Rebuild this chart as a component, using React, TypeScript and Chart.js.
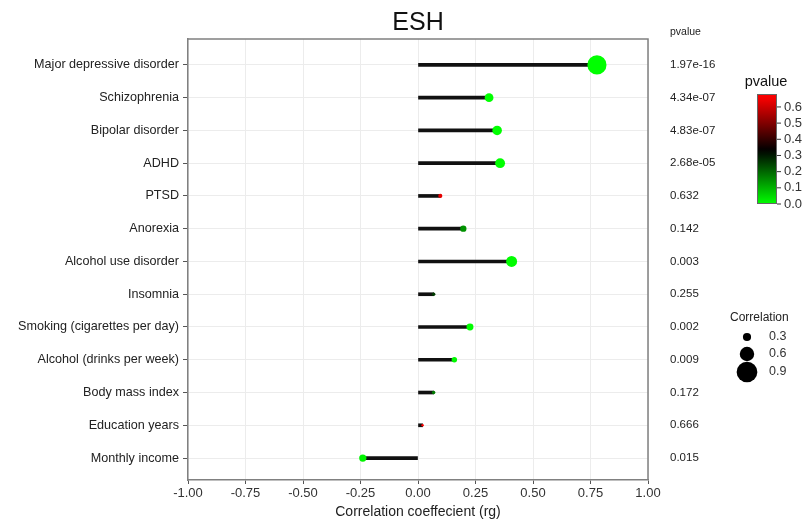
import React, { useEffect, useRef } from "react";
import { Chart, registerables } from "chart.js";

Chart.register(...registerables);

const categories = [
  "Major depressive disorder",
  "Schizophrenia",
  "Bipolar disorder",
  "ADHD",
  "PTSD",
  "Anorexia",
  "Alcohol use disorder",
  "Insomnia",
  "Smoking (cigarettes per day)",
  "Alcohol (drinks per week)",
  "Body mass index",
  "Education years",
  "Monthly income",
];
const rg = [0.778, 0.309, 0.344, 0.357, 0.097, 0.197, 0.407, 0.068, 0.226, 0.158, 0.068, 0.02, -0.24];
const pvalueLabels = [
  "1.97e-16", "4.34e-07", "4.83e-07", "2.68e-05", "0.632", "0.142", "0.003",
  "0.255", "0.002", "0.009", "0.172", "0.666", "0.015",
];
const pvalues = pvalueLabels.map((s) => parseFloat(s));
const xTicks = [-1, -0.75, -0.5, -0.25, 0, 0.25, 0.5, 0.75, 1];
const colorTicks = [0, 0.1, 0.2, 0.3, 0.4, 0.5, 0.6];
const sizeBreaks = [0.3, 0.6, 0.9];
const P_MAX = 0.666;

const FONT = "'Liberation Sans', Arial, sans-serif";

function pColor(p: number): string {
  const t = Math.max(0, Math.min(1, p / P_MAX));
  if (t < 0.5) {
    const g = Math.round(255 * (1 - 2 * t));
    return `rgb(0,${g},0)`;
  }
  const r = Math.round(255 * (2 * t - 1));
  return `rgb(${r},0,0)`;
}

function radiusOf(v: number): number {
  return 1 + 11 * Math.abs(v);
}

const extras = {
  id: "extras",
  afterDraw(chart: any) {
    const ctx = chart.ctx as CanvasRenderingContext2D;
    const ca = chart.chartArea;
    const ys = chart.scales.y;
    ctx.save();
    ctx.strokeStyle = "#808080";
    ctx.lineWidth = 1.5;
    ctx.beginPath();
    ctx.moveTo(ca.left, ca.top);
    ctx.lineTo(ca.right, ca.top);
    ctx.lineTo(ca.right, ca.bottom);
    ctx.stroke();

    ctx.fillStyle = "#111";
    ctx.textAlign = "center";
    ctx.textBaseline = "middle";
    ctx.font = `25px ${FONT}`;
    ctx.fillText("ESH", (ca.left + ca.right) / 2, 23);

    ctx.font = `14px ${FONT}`;
    ctx.fillStyle = "#222";
    ctx.fillText("Correlation coeffecient (rg)", (ca.left + ca.right) / 2, 512);

    ctx.textAlign = "left";
    ctx.font = `10.5px ${FONT}`;
    ctx.fillStyle = "#222";
    ctx.fillText("pvalue", 670, 32);
    ctx.font = `11.5px ${FONT}`;
    pvalueLabels.forEach((s, i) => {
      ctx.fillText(s, 670, ys.getPixelForValue(i));
    });

    const bx = 757, bw = 20, btop = 94, bbot = 204;
    const grad = ctx.createLinearGradient(0, bbot, 0, btop);
    const valAtTop = P_MAX + 0.014;
    const steps = 20;
    for (let k = 0; k <= steps; k++) {
      const p = (k / steps) * valAtTop;
      grad.addColorStop(k / steps, pColor(p));
    }
    ctx.fillStyle = grad;
    ctx.fillRect(bx, btop, bw, bbot - btop);
    ctx.strokeStyle = "#666";
    ctx.lineWidth = 1;
    ctx.strokeRect(bx + 0.5, btop + 0.5, bw - 1, bbot - btop - 1);
    ctx.font = `14.5px ${FONT}`;
    ctx.fillStyle = "#111";
    ctx.textAlign = "center";
    ctx.fillText("pvalue", 766, 82);
    ctx.font = `13px ${FONT}`;
    ctx.textAlign = "left";
    ctx.strokeStyle = "#333";
    colorTicks.forEach((t) => {
      const y = bbot - (t / valAtTop) * (bbot - btop);
      ctx.beginPath();
      ctx.moveTo(bx + bw, y);
      ctx.lineTo(bx + bw + 4, y);
      ctx.stroke();
      ctx.fillStyle = "#333";
      ctx.fillText(t.toFixed(1), 784, y);
    });

    ctx.font = `12px ${FONT}`;
    ctx.fillStyle = "#222";
    ctx.fillText("Correlation", 730, 318);
    const sy = [337, 354, 372];
    ctx.font = `12.5px ${FONT}`;
    sizeBreaks.forEach((b, i) => {
      ctx.fillStyle = "#000";
      ctx.beginPath();
      ctx.arc(747, sy[i], radiusOf(b) * 0.95, 0, Math.PI * 2);
      ctx.fill();
      ctx.fillStyle = "#333";
      ctx.fillText(b.toFixed(1), 769, sy[i]);
    });
    ctx.restore();
  },
};

export default function App() {
  const ref = useRef<HTMLCanvasElement | null>(null);
  useEffect(() => {
    if (!ref.current) return;
    const chart = new Chart(ref.current, {
      type: "bar",
      data: {
        datasets: [
          {
            type: "scatter",
            order: 1,
            data: rg.map((v, i) => ({ x: v, y: i })),
            pointRadius: rg.map((v) => radiusOf(v)),
            pointBackgroundColor: pvalues.map((p) => pColor(p)),
            pointBorderWidth: 0,
            pointBorderColor: "rgba(0,0,0,0)",
          } as any,
          {
            type: "bar",
            order: 2,
            indexAxis: "y",
            data: rg.map((v, i) => ({ x: [0, v], y: i })),
            backgroundColor: "#111",
            barThickness: 3,
            borderWidth: 0,
            grouped: false,
          } as any,
        ],
      },
      options: {
        animation: false,
        responsive: false,
        devicePixelRatio: 1,
        indexAxis: "y",
        layout: { padding: { top: 39, right: 162, left: 0, bottom: 0 } },
        plugins: { legend: { display: false }, tooltip: { enabled: false }, title: { display: false } },
        scales: {
          x: {
            type: "linear",
            min: -1,
            max: 1,
            offset: false,
            afterBuildTicks: (s: any) => {
              s.ticks = xTicks.map((v) => ({ value: v }));
            },
            afterFit: (s: any) => {
              s.height = 41;
            },
            ticks: {
              callback: (v: any) => Number(v).toFixed(2),
              font: { family: FONT, size: 13 },
              color: "#333",
              padding: 2,
              maxRotation: 0,
            },
            grid: { color: "#ececec", lineWidth: 1, tickLength: 4, tickColor: "#555", drawTicks: true, offset: false },
            border: { color: "#808080", width: 1.5 },
          },
          y: {
            type: "linear",
            reverse: true,
            min: -0.79,
            max: 12.67,
            offset: false,
            afterBuildTicks: (s: any) => {
              s.ticks = categories.map((_, i) => ({ value: i }));
            },
            afterFit: (s: any) => {
              s.width = 188;
            },
            ticks: {
              callback: (v: any) => categories[Number(v)] ?? "",
              font: { family: FONT, size: 12.6 },
              color: "#222",
              padding: 4,
              autoSkip: false,
            },
            grid: { color: "#ececec", lineWidth: 1, tickLength: 5, tickColor: "#555", drawTicks: true, offset: false },
            border: { color: "#808080", width: 1.5 },
          },
        },
      },
      plugins: [extras],
    });
    return () => chart.destroy();
  }, []);
  return (
    <div style={{ position: "absolute", left: 0, top: 0, width: 810, height: 521, background: "#fff" }}>
      <canvas ref={ref} width={810} height={521} />
    </div>
  );
}
